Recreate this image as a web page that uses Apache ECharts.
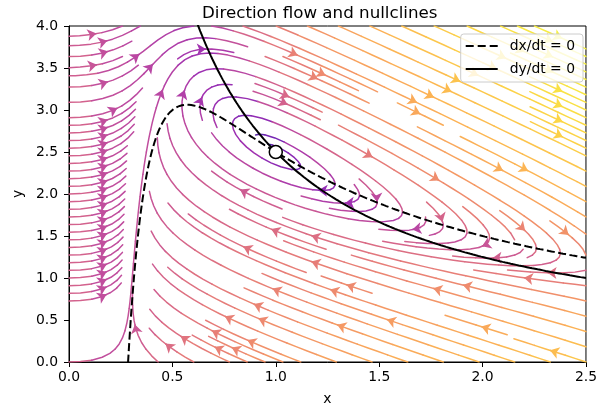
<!DOCTYPE html>
<html>
<head>
<meta charset="utf-8">
<script src="https://cdn.jsdelivr.net/npm/echarts@6/dist/echarts.min.js"></script>
<style>
  html, body { margin: 0; padding: 0; background: #fff; }
  #chart { width: 600px; height: 415px; }
</style>
</head>
<body>
<div id="chart"></div>
<script>
const modelA = 1.0;
const modelB = 2.5;
const xRange = [0, 2.5];
const yRange = [0, 4];
const tickStep = 0.5;
const fixedPoint = [[1.0, 2.5]];
const legendNames = ['dx/dt = 0', 'dy/dt = 0'];
const titleText = 'Direction flow and nullclines';
const streamDensity = [1, 1.5];

// plasma colormap stops
const plasmaStops = [
  [13, 8, 135], [65, 4, 157], [106, 0, 168], [143, 13, 164], [177, 42, 144], [204, 71, 120],
  [225, 100, 98], [242, 132, 75], [252, 166, 54], [252, 206, 37], [240, 249, 33]
];

const XM = xRange[1], YM = yRange[1];
const field = (x, y) => [modelA - (modelB + 1) * x + x * x * y, modelB * x - x * x * y];

// streamplot, placed the way matplotlib places its lines
const NX = Math.floor(30 * streamDensity[0]);
const NY = Math.floor(30 * streamDensity[1]);
const mask = new Uint8Array(NX * NY);
let trajCells = [];
let curXY = null;
const OOB = 'oob', TERM = 'term', INVALID = 'invalid';
const within = (a, b) => a >= 0 && a <= 1 && b >= 0 && b <= 1;
const toMask = (a, b) => [Math.round(a * (NX - 1)), Math.round(b * (NY - 1))];

function updateTraj(a, b) {
  if (!within(a, b)) throw INVALID;
  const [xm, ym] = toMask(a, b);
  if (curXY && curXY[0] === xm && curXY[1] === ym) return;
  if (mask[ym * NX + xm] === 0) {
    trajCells.push(ym * NX + xm);
    mask[ym * NX + xm] = 1;
    curXY = [xm, ym];
  } else {
    throw INVALID;
  }
}

function dirField(a, b, sgn) {
  if (!within(a, b)) throw OOB;
  const [u, v] = field(a * XM, b * YM);
  const ua = u / XM, va = v / YM;
  const sp = Math.hypot(ua, va);
  if (sp === 0) throw TERM;
  return [sgn * ua / sp, sgn * va / sp];
}

function eulerStep(pts, sgn) {
  const [xi, yi] = pts[pts.length - 1];
  const [cx, cy] = dirField(xi, yi, sgn);
  const dsx = cx === 0 ? Infinity : (cx < 0 ? xi / -cx : (1 - xi) / cx);
  const dsy = cy === 0 ? Infinity : (cy < 0 ? yi / -cy : (1 - yi) / cy);
  const ds = Math.min(dsx, dsy);
  pts.push([xi + cx * ds, yi + cy * ds]);
  return ds;
}

function rk12(x0, y0, sgn) {
  const maxError = 0.003, maxDs = Math.min(1 / NX, 1 / NY, 0.1), maxLength = 4;
  let ds = maxDs, stotal = 0, xi = x0, yi = y0;
  const pts = [];
  while (true) {
    let k1, k2;
    try {
      if (within(xi, yi)) pts.push([xi, yi]); else throw OOB;
      k1 = dirField(xi, yi, sgn);
      k2 = dirField(xi + ds * k1[0], yi + ds * k1[1], sgn);
    } catch (e) {
      if (e === OOB && pts.length) stotal += eulerStep(pts, sgn);
      break;
    }
    const dx1 = ds * k1[0], dy1 = ds * k1[1];
    const dx2 = ds * 0.5 * (k1[0] + k2[0]), dy2 = ds * 0.5 * (k1[1] + k2[1]);
    const err = Math.hypot(dx2 - dx1, dy2 - dy1);
    if (err < maxError) {
      xi += dx2; yi += dy2;
      try { updateTraj(xi, yi); } catch (e) { break; }
      if (stotal + ds > maxLength) break;
      stotal += ds;
    }
    ds = err === 0 ? maxDs : Math.min(maxDs, 0.85 * ds * Math.sqrt(maxError / err));
  }
  return [stotal, pts];
}

function integrate(a0, b0) {
  trajCells = [];
  try { updateTraj(a0, b0); } catch (e) { return null; }
  let stotal = 0;
  const back = rk12(a0, b0, -1);
  stotal += back[0];
  let pts = back[1].slice().reverse();
  curXY = toMask(a0, b0);
  const fwd = rk12(a0, b0, 1);
  stotal += fwd[0];
  pts = pts.concat(fwd[1].slice(1));
  if (stotal > 0.1) return pts;
  trajCells.forEach(c => { mask[c] = 0; });
  return null;
}

function* spiral(nx, ny) {
  let xFirst = 0, yFirst = 1, xLast = nx - 1, yLast = ny - 1, x = 0, y = 0, dir = 'right';
  for (let i = 0; i < nx * ny; i++) {
    yield [x, y];
    if (dir === 'right') { x++; if (x >= xLast) { xLast--; dir = 'up'; } }
    else if (dir === 'up') { y++; if (y >= yLast) { yLast--; dir = 'left'; } }
    else if (dir === 'left') { x--; if (x <= xFirst) { xFirst++; dir = 'down'; } }
    else { y--; if (y <= yFirst) { yFirst++; dir = 'right'; } }
  }
}

const trajectories = [];
for (const [xm, ym] of spiral(NX, NY)) {
  if (mask[ym * NX + xm] === 0) {
    const t = integrate(xm / (NX - 1), ym / (NY - 1));
    if (t) trajectories.push(t.map(p => [p[0] * XM, p[1] * YM]));
  }
}

// colour by log of speed
const lnMin = Math.log(0.04), lnMax = Math.log(25.5), lineAlpha = 0.85;
function plasma(t) {
  t = Math.max(0, Math.min(1, t)) * (plasmaStops.length - 1);
  const i = Math.min(Math.floor(t), plasmaStops.length - 2), f = t - i;
  const a = plasmaStops[i], b = plasmaStops[i + 1];
  const c = [0, 1, 2].map(k => Math.round((a[k] + (b[k] - a[k]) * f) * lineAlpha + 255 * (1 - lineAlpha)));
  return `rgb(${c[0]},${c[1]},${c[2]})`;
}
function speedColor(p) {
  const [u, v] = field(p[0], p[1]);
  return plasma((Math.log(Math.hypot(u, v)) - lnMin) / (lnMax - lnMin));
}

const streamData = [];
const arrowData = [];
trajectories.forEach(t => {
  for (let i = 0; i < t.length - 1; i += 3) {
    const chunk = t.slice(i, Math.min(i + 4, t.length));
    streamData.push({ coords: chunk, lineStyle: { color: speedColor(t[Math.min(i + 1, t.length - 1)]) } });
  }
  // arrow at the middle of the line (by arc length), pointing along the flow
  let acc = 0;
  const s = [];
  for (let i = 1; i < t.length; i++) { acc += Math.hypot(t[i][0] - t[i - 1][0], t[i][1] - t[i - 1][1]); s.push(acc); }
  let n = s.findIndex(v => v >= acc / 2);
  if (n < 0 || n + 1 >= t.length) return;
  const tail = t[n];
  const head = [(t[n][0] + t[n + 1][0]) / 2, (t[n][1] + t[n + 1][1]) / 2];
  if (Math.hypot(head[0] - tail[0], head[1] - tail[1]) < 1e-6) return;
  const col = speedColor(tail);
  arrowData.push({ coords: [tail, head], lineStyle: { color: col }, itemStyle: { color: col } });
});

// nullclines
const ncX = [], ncY = [];
for (let i = 0; i <= 400; i++) {
  const x = 0.28 + (XM - 0.28) * i / 400;
  const yx = ((modelB + 1) * x - modelA) / (x * x);
  if (yx >= -0.05) ncX.push([x, yx]);
}
for (let i = 0; i <= 300; i++) {
  const x = 0.55 + (XM - 0.55) * i / 300;
  ncY.push([x, modelB / x]);
}

// legend line samples (tiny corner dots keep the icon box at 32x14)
const box = 'M0,0h0.01v0.01h-0.01z M31.99,13.99h0.01v0.01h-0.01z ';
const dashedIcon = 'path://' + box + 'M0,6h8v2h-8z M12,6h8v2h-8z M24,6h8v2h-8z';
const solidIcon = 'path://' + box + 'M0,6h32v2h-32z';

const chart = echarts.init(document.getElementById('chart'));
const font = 'DejaVu Sans';
chart.setOption({
  animation: false,
  textStyle: { fontFamily: font },
  title: {
    text: titleText, left: 197, top: 0,
    textStyle: { fontFamily: font, fontSize: 16.7, fontWeight: 'normal', color: '#000' }
  },
  grid: { left: 69, right: 11, top: 26, bottom: 53, show: true, borderColor: '#000', borderWidth: 1 },
  legend: {
    data: [{ name: legendNames[0], icon: dashedIcon }, { name: legendNames[1], icon: solidIcon }],
    orient: 'vertical', right: 17, top: 34,
    itemWidth: 32, itemHeight: 14, itemGap: 9, padding: [5, 8, 6, 5],
    itemStyle: { color: '#000', borderWidth: 0 },
    backgroundColor: 'rgba(255,255,255,0.8)', borderColor: '#cccccc', borderWidth: 1, borderRadius: 3,
    textStyle: { fontFamily: font, fontSize: 13.9, color: '#000', padding: [0, 0, 0, 7] }
  },
  xAxis: {
    type: 'value', min: xRange[0], max: xRange[1], interval: tickStep,
    name: 'x', nameLocation: 'middle', nameGap: 30,
    nameTextStyle: { fontFamily: font, fontSize: 13.9, color: '#000' },
    axisLine: { lineStyle: { color: '#000', width: 1 } },
    axisTick: { show: true, inside: false, length: 5, lineStyle: { color: '#000' } },
    axisLabel: { margin: 8, fontSize: 13.9, color: '#000', formatter: v => v.toFixed(1) },
    splitLine: { show: false }
  },
  yAxis: {
    type: 'value', min: yRange[0], max: yRange[1], interval: tickStep,
    name: 'y', nameLocation: 'middle', nameGap: 44,
    nameTextStyle: { fontFamily: font, fontSize: 13.9, color: '#000' },
    axisLine: { show: true, lineStyle: { color: '#000', width: 1 } },
    axisTick: { show: true, inside: false, length: 5, lineStyle: { color: '#000' } },
    axisLabel: { margin: 11, fontSize: 13.9, color: '#000', formatter: v => v.toFixed(1) },
    splitLine: { show: false }
  },
  series: [
    {
      type: 'lines', coordinateSystem: 'cartesian2d', polyline: true, large: false,
      silent: true, z: 1, clip: true,
      lineStyle: { width: 1.5, opacity: 1, cap: 'round', join: 'round' },
      data: streamData
    },
    {
      type: 'lines', coordinateSystem: 'cartesian2d', large: false, silent: true, z: 2, clip: true,
      symbol: ['none', 'arrow'], symbolSize: 9,
      lineStyle: { width: 1.5, opacity: 1 },
      data: arrowData
    },
    {
      name: legendNames[0], type: 'line', data: ncX, symbol: 'none', z: 5, clip: true,
      itemStyle: { color: '#000' },
      lineStyle: { color: '#000', width: 2, type: [8, 3.5] }
    },
    {
      name: legendNames[1], type: 'line', data: ncY, symbol: 'none', z: 5, clip: true,
      itemStyle: { color: '#000' },
      lineStyle: { color: '#000', width: 2, type: 'solid' }
    },
    {
      type: 'scatter', data: fixedPoint, symbol: 'circle', symbolSize: 13, z: 6,
      itemStyle: { color: '#fff', borderColor: '#000', borderWidth: 1.5, opacity: 1 }
    }
  ]
});
</script>
</body>
</html>
